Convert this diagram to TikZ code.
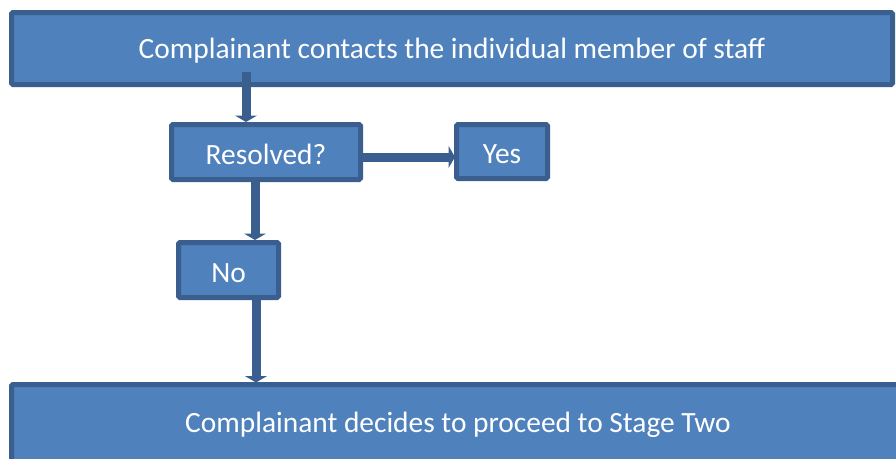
\documentclass[tikz,border=0pt]{standalone}
\usepackage{fontspec}
\setmainfont{Carlito}
\usetikzlibrary{arrows.meta,calc}
\definecolor{boxfill}{HTML}{4F81BD}
\definecolor{boxline}{HTML}{3A5F8E}
\tikzset{
  lbl/.style={text=white, font=\fontsize{29.4}{33}\selectfont},
  box/.style={draw=boxline, line width=5pt, fill=boxfill, rounded corners=1.5pt,
    lbl, inner sep=0pt, outer sep=0pt, text height=24pt, text depth=0pt},
  conn/.style={draw=boxline, line width=9pt,
    -{Triangle[width=22pt,length=6.5pt]}},
}
\begin{document}
\begin{tikzpicture}[x=1pt,y=1pt]
\useasboundingbox (0,0) rectangle (896,-458);
\begin{scope}
\clip (0,0) rectangle (896,-458);
% boxes (coordinates on stroke centre lines)
\node[box, minimum width=881pt, minimum height=72pt, anchor=north west] (top) at (11.5,-12.5) {};
\node[lbl, anchor=base] (toptext) at (452,-58.5) {Complainant contacts the individual member of staff};
\node[box, minimum width=189pt, minimum height=55pt, anchor=north west] (res) at (171.5,-124.5) {Resolved?};
\node[box, minimum width=91pt, minimum height=54pt, anchor=north west] (yes) at (456.5,-124.5) {Yes};
\node[box, minimum width=100pt, minimum height=55pt, anchor=north west] (no) at (178.5,-242.5) {No};
\node[box, minimum width=900pt, minimum height=90pt, anchor=north west] (bot) at (11.5,-384.5) {};
\node[lbl, anchor=base] (bottext) at (458,-432) {Complainant decides to proceed to Stage Two};
% connector x positions
\coordinate (c1) at (246,0);
\coordinate (c2) at (255,0);
\coordinate (c3) at (256,0);
\coordinate (c4) at (0,-157);
% connectors
\draw[conn] ($(top.south -| c1)+(0,13)$) -- ($(res.north -| c1)+(0,2.5)$);
\draw[conn] (res.east |- c4) -- ($(yes.west |- c4)+(-1.5,0)$);
\draw[conn] (res.south -| c2) -- ($(no.north -| c2)+(0,2.5)$);
\draw[conn] (no.south -| c3) -- ($(bot.north -| c3)+(0,2)$);
\end{scope}
\end{tikzpicture}
\end{document}
